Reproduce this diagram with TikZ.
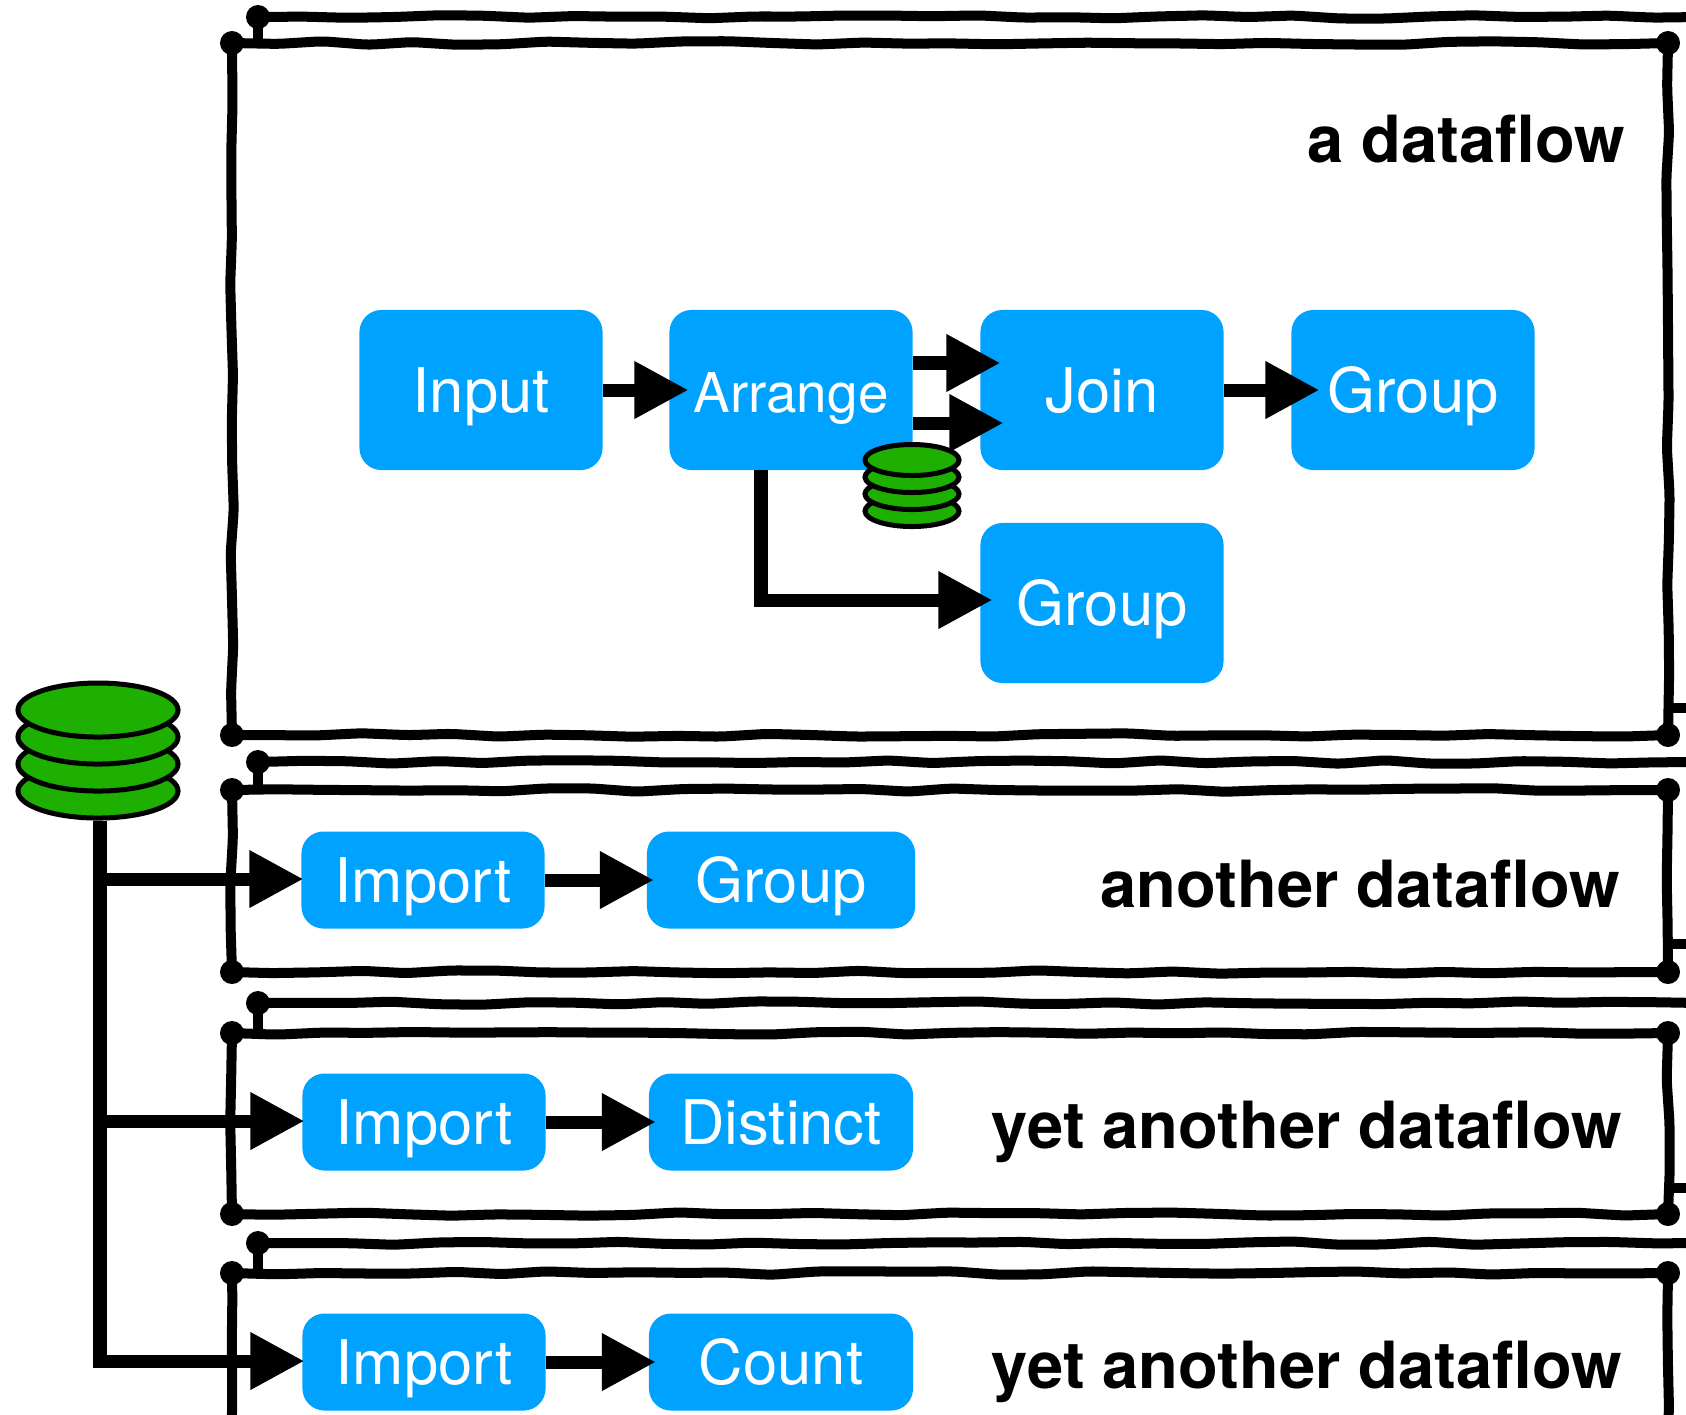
\documentclass[tikz,border=0pt]{standalone}
\usepackage{fontspec}
\setmainfont{TeX Gyre Heros}
\usetikzlibrary{positioning, calc}
\usetikzlibrary{shapes.geometric}
\usetikzlibrary{decorations.pathmorphing}
\usetikzlibrary{arrows.meta}
\definecolor{opblue}{HTML}{00A2FF}
\definecolor{diskgreen}{HTML}{1DB000}
\tikzset{
    opbox/.style = {fill=opblue, text=white, rounded corners=0.22cm, minimum width=2.43cm, inner sep=0pt, outer sep=0pt,
        text height=0.57cm, text depth=0.12cm, font=\fontsize{17.5}{20}\selectfont},
    tallbox/.style = {opbox, minimum height=1.6cm},
    lowbox/.style = {opbox, minimum height=0.97cm},
    flow/.style = {line width=0.13cm, -{Triangle[length=0.54cm,width=0.54cm]}},
    wobble/.style = {line width=0.1cm, decorate, rounded corners=2pt,
        decoration={random steps, segment length=0.45cm, amplitude=0.018cm}},
    blob/.style = {circle, fill=black, minimum size=0.24cm, inner sep=0pt},
    flowname/.style = {anchor=base east, inner sep=0pt, font=\fontsize{18.5}{22}\selectfont\bfseries},
    bigdisk/.style = {ellipse, draw, fill=diskgreen, line width=0.05cm, minimum width=1.6cm, minimum height=0.54cm, inner sep=0pt},
    smalldisk/.style = {ellipse, draw, fill=diskgreen, line width=0.05cm, minimum width=0.94cm, minimum height=0.31cm, inner sep=0pt},
}
\begin{document}
\begin{tikzpicture}[x=0.01cm, y=-0.01cm]
            \pgfmathsetseed{7}
            \clip (0,0) rectangle (1686,1414);
            % frames, back one first
            \foreach \n/\bt/\bb/\ft/\fb in {1/17/708/43/735, 2/762/944/790/972, 3/1003/1188/1033/1214, 4/1243/1480/1273/1480} {
                \draw[wobble] (258,\ft) -- (258,\bt);
                \draw[wobble] (258,\bt) -- (1700,\bt);
                \draw[wobble] (1668,\bb) -- (1700,\bb);
                \node[blob] (back\n) at (258,\bt) {};
                \fill[white] (232,\ft) rectangle (1668,\fb);
                \draw[wobble] (232,\ft) -- (1668,\ft);
                \draw[wobble] (1668,\ft) -- (1668,\fb);
                \draw[wobble] (1668,\fb) -- (232,\fb);
                \draw[wobble] (232,\fb) -- (232,\ft);
                \node[blob] (tl\n) at (232,\ft) {};
                \node[blob] (tr\n) at (1668,\ft) {};
                \node[blob] (bl\n) at (232,\fb) {};
                \node[blob] (br\n) at (1668,\fb) {};
            }

            \node[flowname] (name1) at (1626,162) {a dataflow};
            \node[flowname] (name2) at (1621,907) {another dataflow};
            \node[flowname] (name3) at (1623,1148) {yet another dataflow};
            \node[flowname] (name4) at (1623,1388) {yet another dataflow};

            % a dataflow
            \node[tallbox] (Input) at (481,390) {Input};
            \node[tallbox, font=\fontsize{15.6}{18}\selectfont] (Arrange) at (791,390) {Arrange};
            \node[tallbox] (Join) at (1102,390) {Join};
            \node[tallbox] (GroupA) at (1413,390) {Group};
            \node[tallbox] (GroupB) at (1102,603) {Group};

            \draw[flow, shorten >=-0.19cm] (Input) -- (Arrange);
            \draw[flow, shorten >=-0.20cm] ([yshift=0.27cm]Arrange.east) -- ([yshift=0.27cm]Join.west);
            \draw[flow, shorten >=-0.23cm] ([yshift=-0.33cm]Arrange.east) -- ([yshift=-0.33cm]Join.west);
            \draw[flow, shorten >=-0.28cm] (Join) -- (GroupA);
            \draw[flow, shorten >=-0.12cm] ([xshift=-0.3cm]Arrange.south) |- ([yshift=0.03cm]GroupB.west);

            \foreach \i/\y in {4/511, 3/494, 2/477, 1/460} {
                \node[smalldisk] (small\i) at (912,\y) {};
            }

            % the other ones
            \node[lowbox] (ImportA) at (423,880) {Import};
            \node[lowbox, minimum width=2.68cm] (GroupC) at (781,880) {Group};
            \node[lowbox] (ImportB) at (424,1122) {Import};
            \node[lowbox, minimum width=2.64cm] (Distinct) at (781,1122) {Distinct};
            \node[lowbox] (ImportC) at (424,1362) {Import};
            \node[lowbox, minimum width=2.64cm] (Count) at (781,1362) {Count};

            \draw[flow, shorten >=-0.07cm] (ImportA) -- (GroupC);
            \draw[flow, shorten >=-0.07cm] (ImportB) -- (Distinct);
            \draw[flow, shorten >=-0.07cm] (ImportC) -- (Count);

            \foreach \i/\y in {4/791, 3/764, 2/737, 1/710} {
                \node[bigdisk] (big\i) at (98,\y) {};
            }
            \draw[flow, shorten >=-0.02cm] ([xshift=0.02cm]big4.south) |- ([yshift=0.01cm]ImportA.west);
            \draw[flow, shorten >=-0.02cm] ([xshift=0.02cm]big4.south) |- ([yshift=0.01cm]ImportB.west);
            \draw[flow, shorten >=-0.02cm] ([xshift=0.02cm]big4.south) |- ([yshift=0.01cm]ImportC.west);
        \end{tikzpicture}
\end{document}
